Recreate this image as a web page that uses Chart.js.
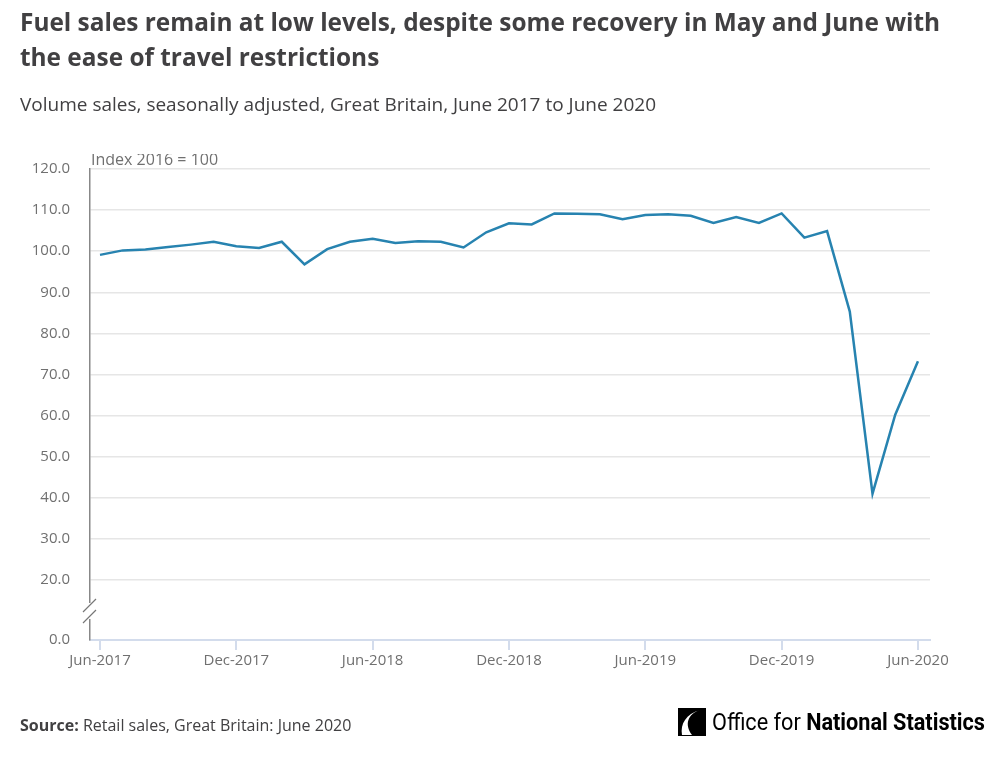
<!DOCTYPE html>
<html>
<head>
<meta charset="utf-8">
<script src="https://cdn.jsdelivr.net/npm/chart.js@4"></script>
<style>
  body { margin: 0; background: #fff; font-family: "Open Sans", sans-serif; }
  #wrap { position: relative; width: 992px; height: 764px; overflow: hidden; }
  #chart { position: absolute; left: 0; top: 0; }
  .txt { position: absolute; z-index: 2; white-space: nowrap; }
  #title { left: 20px; top: 4px; font-size: 24.4px; font-weight: 700; line-height: 35px; color: #414042; }
  #subtitle { left: 20px; top: 91px; font-size: 19px; color: #414042; }
  #source { left: 20px; top: 714px; font-size: 16px; color: #414042; }
  #logo { left: 678px; top: 708px; display: flex; align-items: center; }
  #logo span { font-family: "Roboto", sans-serif; font-size: 24px; color: #000; margin-left: 6px; display: inline-block; transform-origin: left center; }
</style>
</head>
<body>
<div id="wrap">
  <div class="txt" id="title">Fuel sales remain at low levels, despite some recovery in May and June with<br>the ease of travel restrictions</div>
  <div class="txt" id="subtitle">Volume sales, seasonally adjusted, Great Britain, June 2017 to June 2020</div>
  <div class="txt" id="source"><b>Source:</b> Retail sales, Great Britain: June 2020</div>
  <div class="txt" id="logo">
    <svg width="28" height="28" viewBox="0 0 28 28"><rect width="28" height="28" fill="#000"/><path d="M22 2 C10 6 6 16 14 27 L4 27 C2 16 8 6 22 2 Z" fill="#fff"/></svg>
    <span id="logotext">Office for <b>National Statistics</b></span>
  </div>
  <canvas id="chart" width="992" height="764"></canvas>
</div>
<script>
// monthly fuel volume sales index, Jun 2017 .. Jun 2020
const months = ['Jun-2017','Jul-2017','Aug-2017','Sep-2017','Oct-2017','Nov-2017','Dec-2017',
  'Jan-2018','Feb-2018','Mar-2018','Apr-2018','May-2018','Jun-2018','Jul-2018','Aug-2018','Sep-2018',
  'Oct-2018','Nov-2018','Dec-2018','Jan-2019','Feb-2019','Mar-2019','Apr-2019','May-2019','Jun-2019',
  'Jul-2019','Aug-2019','Sep-2019','Oct-2019','Nov-2019','Dec-2019','Jan-2020','Feb-2020','Mar-2020',
  'Apr-2020','May-2020','Jun-2020'];
const fuelIndex = [99.1, 100.2, 100.4, 101.0, 101.6, 102.3, 101.2,
  100.8, 102.3, 96.8, 100.5, 102.3, 103.0, 102.0, 102.4, 102.3,
  100.9, 104.6, 106.8, 106.5, 109.2, 109.1, 109.0, 107.8, 108.8,
  109.0, 108.6, 106.9, 108.3, 106.9, 109.2, 103.3, 104.9, 85.3,
  41.0, 60.2, 73.2];
const xTickIdx = [0, 6, 12, 18, 24, 30, 36];
const yTicks = [20, 30, 40, 50, 60, 70, 80, 90, 100, 110, 120];
const yBreakBase = 5.4; // where "0.0" sits below the axis break

const points = fuelIndex.map((v, i) => ({ x: i, y: v }));

// squeeze the logo wording into the same width as the original
const lt = document.getElementById('logotext');
lt.style.transform = 'scaleX(' + (273 / lt.getBoundingClientRect().width) + ')';

const extras = {
  id: 'extras',
  afterDraw(chart) {
    const ctx = chart.ctx;
    const left = chart.chartArea.left;
    ctx.save();
    // axis break marks
    ctx.fillStyle = '#fff';
    ctx.fillRect(left - 3, 603, 6, 16);
    ctx.strokeStyle = '#777';
    ctx.lineWidth = 1.2;
    ctx.beginPath();
    ctx.moveTo(left - 7, 612); ctx.lineTo(left + 6, 599);
    ctx.moveTo(left - 7, 623); ctx.lineTo(left + 6, 610);
    ctx.stroke();
    // unit label, cut at the top like the original
    ctx.beginPath();
    ctx.rect(left, 154, 300, 20);
    ctx.clip();
    ctx.fillStyle = '#707070';
    ctx.font = '16px "Open Sans"';
    ctx.textBaseline = 'alphabetic';
    ctx.fillText('Index 2016 = 100', left + 1, 164.5);
    ctx.restore();
  }
};

new Chart(document.getElementById('chart'), {
  type: 'line',
  data: {
    datasets: [{
      data: points,
      borderColor: '#2783b0',
      borderWidth: 2.5,
      pointRadius: 0,
      tension: 0,
      fill: false
    }]
  },
  options: {
    responsive: false,
    animation: false,
    layout: { padding: { top: 169, right: 62, left: 0, bottom: 0 } },
    plugins: { legend: { display: false }, tooltip: { enabled: false } },
    scales: {
      x: {
        type: 'linear',
        min: -0.44,
        max: 36.53,
        afterBuildTicks: s => { s.ticks = xTickIdx.map(v => ({ value: v })); },
        afterFit: s => { s.height = 124; },
        ticks: {
          autoSkip: false,
          maxRotation: 0,
          padding: 2,
          color: '#707070',
          font: { family: 'Open Sans', size: 15 },
          callback: v => months[v]
        },
        grid: { drawOnChartArea: false, drawTicks: true, tickLength: 10, color: '#d3dcec', lineWidth: 2 },
        border: { color: '#d3dcec', width: 2 }
      },
      y: {
        min: yBreakBase,
        max: 120,
        afterBuildTicks: s => { s.ticks = [yBreakBase].concat(yTicks).map(v => ({ value: v })); },
        afterFit: s => { s.width = 90; },
        ticks: {
          padding: 20,
          color: '#707070',
          font: { family: 'Open Sans', size: 15 },
          callback: v => v === yBreakBase ? '0.0' : v.toFixed(1)
        },
        grid: {
          drawTicks: false,
          color: c => c.tick && c.tick.value === yBreakBase ? 'rgba(0,0,0,0)' : '#e6e6e6',
          lineWidth: 1.5
        },
        border: { color: '#888', width: 1.5 }
      }
    }
  },
  plugins: [extras]
});
</script>
</body>
</html>
